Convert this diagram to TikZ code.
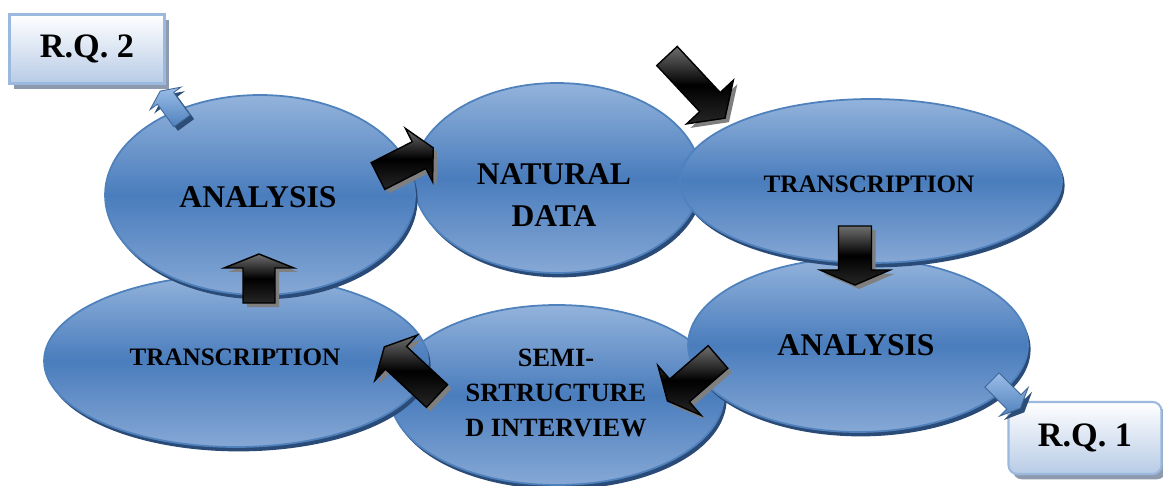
\documentclass[tikz,border=0pt]{standalone}
\usepackage{fontspec}
\setmainfont{Liberation Serif}
\usepackage{tikz}
\usetikzlibrary{shapes.geometric,shadows}

\definecolor{ovaltop}{HTML}{93B3DB}
\definecolor{ovalmid}{HTML}{4A7DBD}
\definecolor{ovalbot}{HTML}{86A8D5}
\definecolor{ovalline}{HTML}{4F81BD}
\definecolor{ovalshade}{HTML}{2A4B78}
\definecolor{rqfill}{HTML}{B7CBE6}
\definecolor{rqline}{HTML}{9BB9DF}
\definecolor{rqshade}{HTML}{8E9BAE}
\definecolor{blkgray}{HTML}{6E6E6E}
\definecolor{blkshade}{HTML}{7F7F7F}
\definecolor{arrtop}{HTML}{9BBDE8}
\definecolor{arrbot}{HTML}{4F81BD}
\definecolor{arrshade}{HTML}{2C4D75}

% fat arrow: style, tail, angle, length, half shaft, half head, head length
\newcommand{\blockarrow}[7]{%
  \begin{scope}[shift={#2}, shift={(4,4)}, rotate=#3]
    \fill[#1 shadow] (0,-#5) -- ({#4-#7},-#5) -- ({#4-#7},-#6) -- (#4,0)
      -- ({#4-#7},#6) -- ({#4-#7},#5) -- (0,#5) -- cycle;
  \end{scope}
  \begin{scope}[shift={#2}, rotate=#3]
    \path[#1] (0,-#5) -- ({#4-#7},-#5) -- ({#4-#7},-#6) -- (#4,0)
      -- ({#4-#7},#6) -- ({#4-#7},#5) -- (0,#5) -- cycle;
  \end{scope}}

\begin{document}
\begin{tikzpicture}[x=0.02cm, y=-0.02cm,
    oval/.style={ellipse, draw=ovalline, line width=1pt, top color=ovaltop,
      bottom color=ovalbot, middle color=ovalmid,
      drop shadow={shadow xshift=1.5pt, shadow yshift=-2.5pt, fill=ovalshade, opacity=1}},
    bigtext/.style={font=\fontsize{18}{24}\selectfont\bfseries, align=center},
    midtext/.style={font=\fontsize{14.3}{18}\selectfont\bfseries, align=center},
    semitext/.style={font=\fontsize{15}{20}\selectfont\bfseries, align=center},
    rq/.style={draw=rqline, line width=1.2pt, top color=white, bottom color=rqfill,
      minimum width=3.1cm, minimum height=1.38cm, font=\fontsize{19.5}{22}\selectfont\bfseries,
      drop shadow={shadow xshift=2.5pt, shadow yshift=-3pt, fill=rqshade, opacity=1}},
    blk/.style={draw=black, line width=0.8pt, top color=blkgray, bottom color=black!85, middle color=black},
    blk shadow/.style={fill=blkshade},
    blue/.style={draw=arrbot!80!black, line width=0.5pt, top color=arrtop, bottom color=arrbot},
    blue shadow/.style={fill=arrshade}]
    \useasboundingbox (0,0) rectangle (1163,486);

    \node[oval, minimum width=6.68cm, minimum height=3.6cm] (e5) at (557,395) {};
    \node[oval, minimum width=6.8cm, minimum height=3.48cm] (e4) at (858,345) {};
    \node[oval, minimum width=7.68cm, minimum height=3.44cm] (e6) at (236,361) {};
    \node[oval, minimum width=5.76cm, minimum height=3.8cm] (e2) at (557,178) {};
    \node[oval, minimum width=7.64cm, minimum height=3.28cm] (e3) at (871,181) {};
    \node[oval, minimum width=6.2cm, minimum height=4cm] (e1) at (260,195) {};

    \node[bigtext] (t1) at (258,197) {ANALYSIS};
    \node[bigtext] (t2) at (554,195) {NATURAL\\DATA};
    \node[midtext] (t3) at (869,184) {TRANSCRIPTION};
    \node[bigtext] (t4) at (856,345) {ANALYSIS};
    \node[semitext] (t5) at (556,393) {SEMI-\\SRTRUCTURE\\D INTERVIEW};
    \node[midtext] (t6) at (235,357) {TRANSCRIPTION};

    \node[rq] (rq2) at (87,49) {R.Q. 2};
    \node[rq, rounded corners=5pt, minimum width=3.06cm, minimum height=1.44cm] (rq1) at (1085,438) {R.Q. 1};

    \blockarrow{blk}{(667,56)}{-47}{85}{14}{32}{22}
    \blockarrow{blk}{(378,176)}{27}{62}{15}{30}{16}
    \blockarrow{blk}{(855,226)}{-90}{59}{16.5}{35}{15}
    \blockarrow{blk}{(718,357)}{-139}{67}{15}{33}{16}
    \blockarrow{blk}{(437,396)}{137}{72}{15.5}{31}{16}
    \blockarrow{blk}{(259,303)}{90}{49}{16}{35}{14}

    \blockarrow{blue}{(182,121)}{126}{37}{10}{19}{9}
    \blockarrow{blue}{(992,380)}{-45}{40}{10}{20}{9}
\end{tikzpicture}
\end{document}
